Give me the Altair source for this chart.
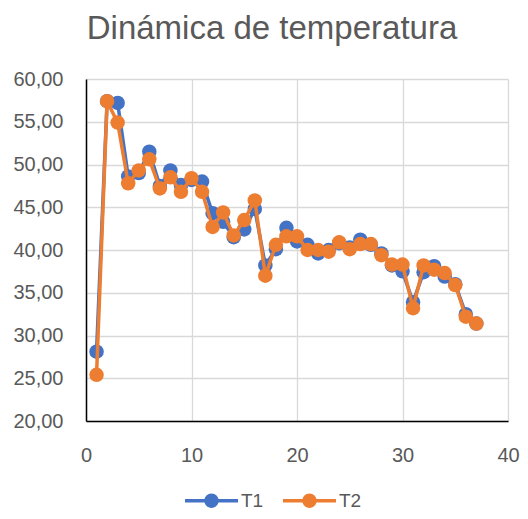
import altair as alt
import pandas as pd

x_vals = list(range(1, 38))
t1 = [28.1, 57.4, 57.2, 48.6, 49.0, 51.5, 47.5, 49.3, 47.6, 48.2,
      48.0, 44.3, 43.3, 41.5, 42.4, 44.8, 38.2, 40.1, 42.6, 41.0,
      40.6, 39.6, 40.0, 40.8, 40.3, 41.2, 40.6, 39.6, 38.2, 37.5,
      33.9, 37.4, 38.1, 36.9, 36.0, 32.5, 31.4]
t2 = [25.4, 57.4, 54.9, 47.8, 49.3, 50.6, 47.2, 48.5, 46.8, 48.4,
      46.8, 42.7, 44.4, 41.7, 43.5, 45.8, 37.0, 40.6, 41.6, 41.6,
      40.0, 40.0, 39.8, 40.9, 40.1, 40.7, 40.7, 39.4, 38.3, 38.3,
      33.2, 38.2, 37.7, 37.3, 35.9, 32.2, 31.4]
series_names = ["T1", "T2"]
colors = ["#4472C4", "#ED7D31"]
x_ticks = [0, 10, 20, 30, 40]
y_ticks = [20, 25, 30, 35, 40, 45, 50, 55, 60]

df = pd.DataFrame({
    "x": x_vals + x_vals,
    "value": t1 + t2,
    "serie": [series_names[0]] * len(t1) + [series_names[1]] * len(t2),
})

FONT = "Liberation Sans"
TXT = "#595959"
GRID = "#D9D9D9"

xscale = alt.Scale(domain=[0, 40], nice=False, zero=False)
yscale = alt.Scale(domain=[20, 60], nice=False, zero=False)
cscale = alt.Scale(domain=series_names, range=colors)

xaxis = alt.Axis(values=x_ticks, grid=True, gridColor=GRID, gridWidth=1.3,
                 domainColor="black", domainWidth=1.5, ticks=False,
                 labelFontSize=20, labelColor=TXT, labelFont=FONT,
                 labelPadding=24, labelFlush=False, title=None)
yaxis = alt.Axis(values=y_ticks, grid=True, gridColor=GRID, gridWidth=1.3,
                 domainColor="black", domainWidth=1.5, ticks=False,
                 labelFontSize=20, labelColor=TXT, labelFont=FONT,
                 labelPadding=23, title=None,
                 labelExpr="replace(format(datum.value, '.2f'), '.', ',')")

sym = ("M-1,-0.07L1,-0.07L1,0.07L-1,0.07Z"
       "M-0.27,0A0.27,0.27 0 1,1 0.27,0A0.27,0.27 0 1,1 -0.27,0Z")
legend = alt.Legend(title=None, orient="none", direction="horizontal",
                    legendX=99, legendY=395, symbolType=sym, symbolSize=2809,
                    symbolStrokeWidth=0, symbolOpacity=1,
                    labelFontSize=19, labelColor=TXT, labelFont=FONT,
                    labelOffset=3, columnPadding=19, padding=0)

base = alt.Chart(df)
layers = []
for s in series_names:
    f = base.transform_filter(alt.datum.serie == s)
    enc = dict(
        x=alt.X("x:Q", scale=xscale, axis=xaxis),
        y=alt.Y("value:Q", scale=yscale, axis=yaxis),
        color=alt.Color("serie:N", scale=cscale, legend=legend),
    )
    layers.append(f.mark_line(strokeWidth=3.5).encode(**enc))
    layers.append(f.mark_point(filled=True, size=210, opacity=1).encode(**enc))

chart = alt.layer(*layers).properties(
    width=422, height=342,
    autosize=alt.AutoSizeParams(type="none"),
    padding={"left": 78, "top": 71, "right": 12, "bottom": 89},
    title=alt.TitleParams("Dinámica de temperatura", fontSize=33, color=TXT,
                          font=FONT, fontWeight="normal", anchor="middle",
                          offset=23, dx=-25),
).configure_view(stroke=None)

chart.save("out.html", embed_options={"renderer": "svg", "actions": False})
